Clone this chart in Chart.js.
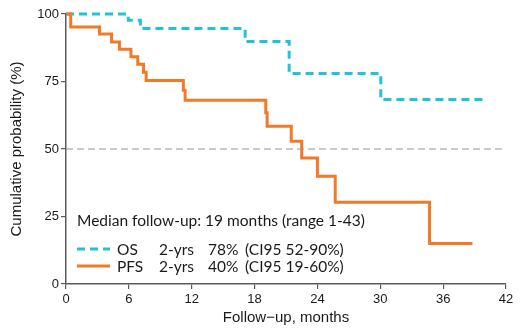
<!DOCTYPE html>
<html>
<head>
<meta charset="utf-8">
<script src="https://cdn.jsdelivr.net/npm/chart.js@4"></script>
<style>
  html, body { margin: 0; padding: 0; background: #fff; }
  #wrap { width: 520px; height: 332px; }
</style>
</head>
<body>
<div id="wrap"><canvas id="kmChart"></canvas></div>
<script>
// Kaplan-Meier curves (months, % survival)
const osMonths = [0, 5.95, 7.1, 17.1, 21.3, 30.05, 40.2];
const osSurv = [100, 97.7, 94.6, 89.8, 78.0, 68.3, 68.3];

const pfsMonths = [0, 0.45, 3.2, 4.35, 5.1, 6.2, 6.85, 7.4, 7.65, 11.2, 11.37, 19.07, 19.2, 21.5, 22.5, 24.0, 25.7, 34.7, 38.8];
const pfsSurv = [100, 95.2, 92.6, 89.6, 86.9, 84.2, 81.4, 78.4, 75.4, 71.8, 68.1, 63.4, 58.4, 52.9, 46.7, 39.9, 30.3, 15.0, 15.0];

// 50% reference line
const refMonths = [0, 41.8];
const refLevel = [50, 50];

const xTicks = [0, 6, 12, 18, 24, 30, 36, 42];
const yTicks = [0, 25, 50, 75, 100];

const medianNote = 'Median follow-up: 19 months (range 1-43)';
const legendNames = ['OS', 'PFS'];
const legendPeriod = ['2-yrs', '2-yrs'];
const legendRate = ['78%', '40%'];
const legendCI = ['(CI95 52-90%)', '(CI95 19-60%)'];

const OS_COLOR = '#22c3d6';
const PFS_COLOR = '#f07a28';
const AXIS_COLOR = '#5a5a5a';
const AXIS_FONT = '"Liberation Sans", Arial, sans-serif';

const toPoints = (xs, ys) => xs.map((x, i) => ({ x: x, y: ys[i] }));

// draws the note + legend block inside the plot
const legendBlock = {
    id: 'legendBlock',
    afterDraw(chart) {
        const ctx = chart.ctx;
        const area = chart.chartArea;
        const x0 = area.left + 11;
        ctx.save();
        ctx.fillStyle = '#1a1a1a';
        ctx.font = '15.5px Lato, "Open Sans", sans-serif';
        ctx.textBaseline = 'alphabetic';
        ctx.fillText(medianNote, x0, 225.5);

        const rows = [250, 267];
        const colors = [OS_COLOR, PFS_COLOR];
        const dashes = [[8, 5], []];
        rows.forEach((y, i) => {
            ctx.beginPath();
            ctx.strokeStyle = colors[i];
            ctx.lineWidth = 3;
            ctx.setLineDash(dashes[i]);
            ctx.moveTo(x0, y - 1);
            ctx.lineTo(x0 + 33, y - 1);
            ctx.stroke();
            ctx.setLineDash([]);
            ctx.fillText(legendNames[i], x0 + 40, y + 4.5);
            ctx.fillText(legendPeriod[i], x0 + 82, y + 4.5);
            ctx.fillText(legendRate[i], x0 + 131, y + 4.5);
            ctx.fillText(legendCI[i], x0 + 168, y + 4.5);
        });
        ctx.restore();
    }
};

new Chart(document.getElementById('kmChart').getContext('2d'), {
    type: 'line',
    data: {
        datasets: [
            {
                label: 'ref',
                data: toPoints(refMonths, refLevel),
                borderColor: '#959595',
                borderWidth: 1.2,
                borderDash: [7, 4],
                pointRadius: 0
            },
            {
                label: 'PFS',
                data: toPoints(pfsMonths, pfsSurv),
                borderColor: PFS_COLOR,
                borderWidth: 3,
                stepped: 'before',
                pointRadius: 0,
                clip: 6
            },
            {
                label: 'OS',
                data: toPoints(osMonths, osSurv),
                borderColor: OS_COLOR,
                borderWidth: 3,
                borderDash: [8, 5],
                stepped: 'before',
                pointRadius: 0,
                clip: 6
            }
        ]
    },
    options: {
        responsive: true,
        maintainAspectRatio: false,
        animation: false,
        layout: { padding: { top: 14, right: 14, left: 0, bottom: 0 } },
        plugins: { legend: { display: false }, tooltip: { enabled: false } },
        scales: {
            x: {
                type: 'linear',
                min: 0, max: 42,
                afterBuildTicks: s => { s.ticks = xTicks.map(v => ({ value: v })); },
                afterFit: s => { s.height = 48; },
                grid: { drawOnChartArea: false, drawTicks: true, tickLength: 5, color: AXIS_COLOR, lineWidth: 1.2 },
                border: { display: true, color: AXIS_COLOR, width: 1.5 },
                ticks: { color: '#1a1a1a', font: { family: AXIS_FONT, size: 13 }, padding: 3, maxRotation: 0 },
                title: { display: true, text: 'Follow\u2212up, months', color: '#1a1a1a', font: { family: AXIS_FONT, size: 15 }, padding: { top: 0, bottom: 5 } }
            },
            y: {
                min: 0, max: 100,
                afterBuildTicks: s => { s.ticks = yTicks.map(v => ({ value: v })); },
                afterFit: s => { s.width = 66; },
                grid: { drawOnChartArea: false, drawTicks: true, tickLength: 5, color: AXIS_COLOR, lineWidth: 1.2 },
                border: { display: true, color: AXIS_COLOR, width: 1.5 },
                ticks: { color: '#1a1a1a', font: { family: AXIS_FONT, size: 13 }, padding: 2 },
                title: { display: true, text: 'Cumulative probability (%)', color: '#1a1a1a', font: { family: AXIS_FONT, size: 15 }, padding: { top: 8, bottom: 0 } }
            }
        }
    },
    plugins: [legendBlock]
});
</script>
</body>
</html>
